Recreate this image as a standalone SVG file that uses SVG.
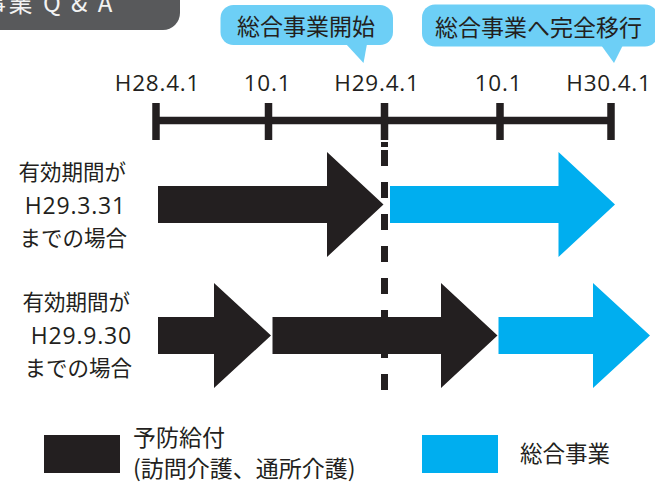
<svg xmlns="http://www.w3.org/2000/svg" width="655" height="484" viewBox="0 0 655 484">
<style>
.cjk{font-family:"Noto Sans CJK JP","Noto Sans",sans-serif;fill:#231f20}
.num{font-family:"Open Sans","Noto Sans",sans-serif;fill:#231f20}
.blk{fill:#231f20}
.blu{fill:#00aeef}
.bub{fill:#6dcff6}
.axis{stroke:#231f20;stroke-width:7.5;fill:none}
</style>
<rect width="655" height="484" fill="#ffffff"/>
<g id="title">
<path d="M-10,-10 H180 V13 A17,17 0 0 1 163,30 H-10 Z" fill="#58595b"/>
<text x="-18" y="12" font-family="'Noto Sans CJK JP','Open Sans',sans-serif" font-size="24" letter-spacing="2.5" fill="#f2f2f2">事業 Q &amp; A</text>
</g>
<g id="bubble-start">
<rect class="bub" x="220.5" y="5" width="172.5" height="40" rx="13"/>
<polygon class="bub" points="346,44 363.5,63 367,44"/>
<text class="cjk" x="306" y="35" font-size="23" text-anchor="middle">総合事業開始</text>
</g>
<g id="bubble-full">
<rect class="bub" x="422" y="4.5" width="236" height="42" rx="13"/>
<polygon class="bub" points="601,45 614,63 623,45"/>
<text class="cjk" x="538.5" y="36" font-size="23" text-anchor="middle">総合事業へ完全移行</text>
</g>
<g id="timeline">
<line class="axis" x1="156" y1="120.5" x2="611" y2="120.5"/>
<line class="axis" x1="156" y1="103" x2="156" y2="140"/>
<line class="axis" x1="268.5" y1="103" x2="268.5" y2="140"/>
<line class="axis" x1="384.5" y1="103" x2="384.5" y2="140"/>
<line class="axis" x1="500" y1="103" x2="500" y2="140"/>
<line class="axis" x1="611" y1="103" x2="611" y2="140"/>
<g class="num" font-size="22.5" text-anchor="middle" letter-spacing="0.8">
<text x="157.5" y="90.5">H28.4.1</text>
<text x="267.5" y="90.5">10.1</text>
<text x="377" y="90.5">H29.4.1</text>
<text x="498.5" y="90.5">10.1</text>
<text x="609" y="90.5">H30.4.1</text>
</g>
</g>
<g id="row1-label" text-anchor="end">
<text class="cjk" x="126" y="180" font-size="21.5">有効期間が</text>
<text class="num" x="126" y="214" font-size="23" letter-spacing="0.8">H29.3.31</text>
<text class="cjk" x="127" y="246" font-size="21.5">までの場合</text>
</g>
<g id="row2-label" text-anchor="end">
<text class="cjk" x="130" y="310" font-size="21.5">有効期間が</text>
<text class="num" x="132" y="344" font-size="23" letter-spacing="0.8">H29.9.30</text>
<text class="cjk" x="132" y="376" font-size="21.5">までの場合</text>
</g>
<g id="row1-arrows">
<polygon class="blk" points="158,186 327,186 327,152 383.5,204.5 327,257 327,223 158,223"/>
<polygon class="blu" points="390,186 558.5,186 558.5,152 615,204.5 558.5,257 558.5,223 390,223"/>
</g>
<g id="row2-arrows">
<polygon class="blk" points="158,317 214,317 214,283 271,335.5 214,388 214,354 158,354"/>
<polygon class="blk" points="272.5,317 441,317 441,283 497.5,335.5 441,388 441,354 272.5,354"/>
<polygon class="blu" points="498.5,317 593,317 593,283 650,335.5 593,388 593,354 498.5,354"/>
</g>
<g id="connectors">
<path d="M384.5,142 V147 M384.5,150 V166 M384.5,182 V198 M384.5,214 V230 M384.5,246 V262 M384.5,278 V294 M384.5,310 V326 M384.5,342 V358 M384.5,374 V390" stroke="#231f20" stroke-width="7" fill="none"/>
</g>
<g id="legend-kyufu">
<rect class="blk" x="44" y="435" width="76" height="38"/>
<text class="cjk" x="133" y="446" font-size="23">予防給付</text>
<text class="cjk" x="133" y="477" font-size="23">(訪問介護、通所介護)</text>
</g>
<g id="legend-sogo">
<rect class="blu" x="422" y="435" width="76" height="38"/>
<text class="cjk" x="520" y="462" font-size="22.5">総合事業</text>
</g>
</svg>
